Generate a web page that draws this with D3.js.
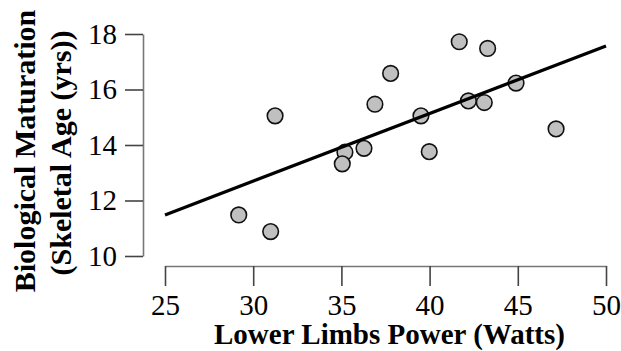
<!DOCTYPE html>
<html><head><meta charset="utf-8">
<script src="https://cdn.jsdelivr.net/npm/d3@7"></script>
<style>html,body{margin:0;padding:0;background:#fff;}</style>
</head><body>
<svg id="chart" width="621" height="351"></svg>
<script>
const powerWatts = [31.24, 29.18, 30.99, 41.68, 43.29, 37.79, 36.90, 44.90, 42.20, 43.10, 39.51, 47.17, 36.28, 35.20, 35.05, 39.98];
const skeletalAge = [15.05, 11.48, 10.88, 17.72, 17.48, 16.58, 15.47, 16.23, 15.59, 15.53, 15.05, 14.58, 13.88, 13.74, 13.32, 13.76];
const fitX = [25, 50];
const fitY = [11.48, 17.57];
const xTicks = [25, 30, 35, 40, 45, 50];
const yTicks = [10, 12, 14, 16, 18];
const xTitle = "Lower Limbs Power (Watts)";
const yTitle = ["Biological Maturation", "(Skeletal Age (yrs))"];

const svg = d3.select("#chart");
const x = d3.scaleLinear().domain([25, 50]).range([165, 606]);
const y = d3.scaleLinear().domain([10, 18]).range([256, 34]);
const font = "'Liberation Serif', 'Times New Roman', serif";

// Y axis
const yAxis = svg.append("g").attr("transform", "translate(143,0)")
  .call(d3.axisLeft(y).tickValues(yTicks).tickSize(18).tickPadding(8).tickSizeOuter(0).tickFormat(d3.format("d")));
// X axis
const xAxis = svg.append("g").attr("transform", "translate(0,266)")
  .call(d3.axisBottom(x).tickValues(xTicks).tickSize(20).tickPadding(8).tickSizeOuter(0).tickFormat(d3.format("d")));

[yAxis, xAxis].forEach(g => {
  g.select(".domain").attr("stroke", "#777").attr("stroke-width", 1.6);
  g.selectAll(".tick line").attr("stroke", "#444").attr("stroke-width", 1.6);
  g.selectAll(".tick text").attr("fill", "#000").style("font-family", font).style("font-size", "29px");
});
yAxis.selectAll(".tick text").attr("dy", "0.32em");
xAxis.selectAll(".tick text").attr("dy", "0.71em");

const pts = powerWatts.map((v, i) => ({x: v, y: skeletalAge[i]}));
svg.append("g").selectAll("circle").data(pts).join("circle")
  .attr("cx", d => x(d.x)).attr("cy", d => y(d.y)).attr("r", 7.8)
  .attr("fill", "#c0c0c0").attr("stroke", "#111").attr("stroke-width", 1.6);

svg.append("path")
  .datum(fitX.map((v, i) => [v, fitY[i]]))
  .attr("d", d3.line().x(d => x(d[0])).y(d => y(d[1])))
  .attr("stroke", "#000").attr("stroke-width", 3.2).attr("fill", "none");

svg.append("text").attr("x", 389.5).attr("y", 344).attr("text-anchor", "middle")
  .style("font-family", font).style("font-size", "29px").style("font-weight", "bold")
  .text(xTitle);

const yt = svg.append("text").attr("transform", "translate(35,151) rotate(-90)")
  .attr("text-anchor", "middle")
  .style("font-family", font).style("font-size", "30px").style("font-weight", "bold");
yt.append("tspan").attr("x", 0).attr("y", 0).text(yTitle[0]);
yt.append("tspan").attr("x", -2).attr("y", 36).text(yTitle[1]);
</script>
</body></html>
